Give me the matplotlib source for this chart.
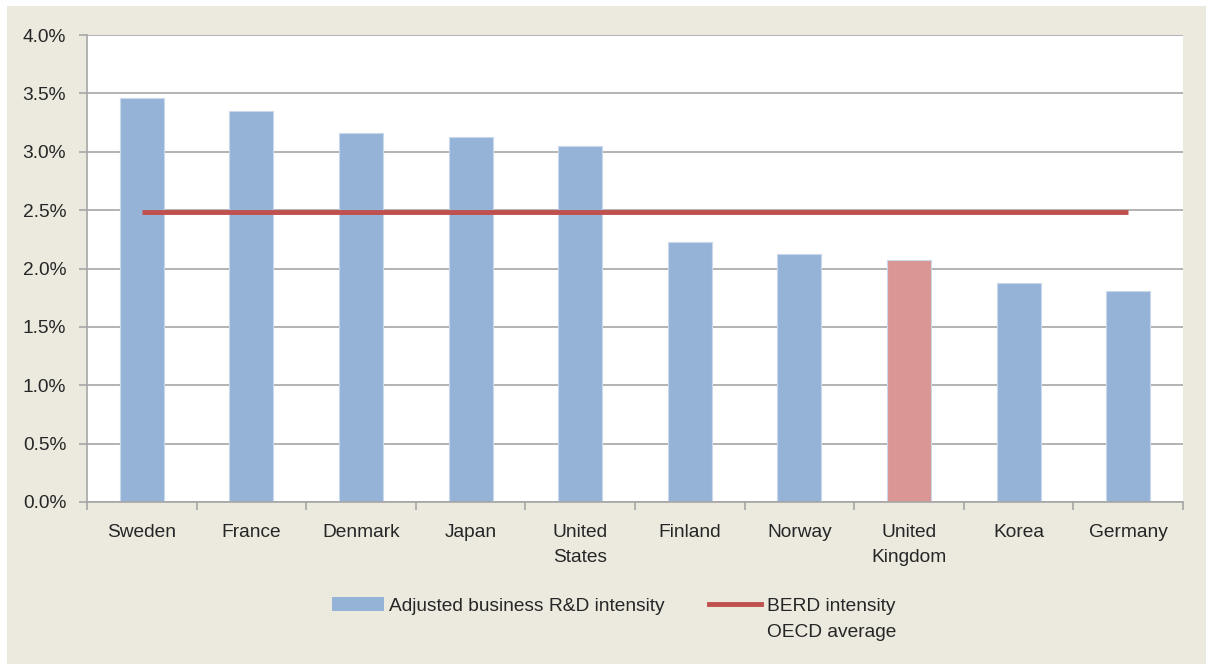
import numpy as np
import matplotlib.pyplot as plt
from matplotlib.patches import Rectangle
from matplotlib.lines import Line2D
from matplotlib.ticker import FuncFormatter, FixedLocator

countries = ["Sweden", "France", "Denmark", "Japan", "United\nStates",
             "Finland", "Norway", "United\nKingdom", "Korea", "Germany"]
rd_intensity = [3.46, 3.35, 3.16, 3.13, 3.05, 2.23, 2.12, 2.07, 1.88, 1.81]
oecd_avg = [2.48] * len(countries)
highlight = "United\nKingdom"

plt.rcParams['font.family'] = ['Liberation Sans', 'DejaVu Sans']

blue = "#95B3D7"
pink = "#D99694"
red = "#C0504D"
beige = "#ECE9DF"
grid_c = "#A6A6A6"
txt_c = "#262626"
fs = 13.8

fig = plt.figure(figsize=(12.06, 6.64), dpi=100, facecolor="white")
fig.patches.append(Rectangle((7 / 1206, 0), 1, 1 - 6 / 664, transform=fig.transFigure,
                             facecolor=beige, edgecolor="none", zorder=-10))

ax = fig.add_axes([87 / 1206, 162 / 664, 1096 / 1206, 467 / 664])
ax.set_facecolor("white")

x = np.arange(len(countries))
colors = [pink if c == highlight else blue for c in countries]
ax.bar(x, rd_intensity, width=0.4, color=colors, edgecolor="#C9D8EA", linewidth=0.8, zorder=2)
ax.plot(x, oecd_avg, color=red, linewidth=3.5, zorder=3, solid_capstyle="butt")

ax.set_xlim(-0.5, len(countries) - 0.5)
ax.set_ylim(0, 4.0)
ax.set_yticks(np.arange(0, 4.01, 0.5))
ax.yaxis.set_major_formatter(FuncFormatter(lambda v, p: f"{v:.1f}%"))
ax.yaxis.grid(True, color=grid_c, linewidth=1.2, zorder=0)
ax.set_axisbelow(True)

ax.set_xticks(x)
ax.set_xticklabels(countries, fontsize=fs, color=txt_c, linespacing=1.6)
ax.xaxis.set_minor_locator(FixedLocator(np.arange(-0.5, len(countries), 1.0)))
ax.tick_params(axis="x", which="major", length=0, pad=16)
ax.tick_params(axis="x", which="minor", length=6, color=grid_c, width=1.2)
ax.tick_params(axis="y", length=6, color=grid_c, width=1.2, labelsize=fs,
               labelcolor=txt_c, pad=9)

for s in ["top", "right"]:
    ax.spines[s].set_visible(False)
for s in ["left", "bottom"]:
    ax.spines[s].set_color(grid_c)
    ax.spines[s].set_linewidth(1.2)

blank = Rectangle((0, 0), 1, 1, visible=False)
handles = [Rectangle((0, 0), 1, 1, facecolor=blue, edgecolor="none"), blank,
           Line2D([], [], color=red, linewidth=3.5), blank]
labels = ["Adjusted business R&D intensity", "", "BERD intensity", "OECD average"]
leg = fig.legend(handles, labels, ncol=2, loc="center",
                 bbox_to_anchor=(614 / 1206, 1 - 619 / 664),
                 frameon=False, fontsize=fs, handlelength=2.7,
                 handletextpad=0.3, columnspacing=2.3, labelspacing=0.45)
for t in leg.get_texts():
    t.set_color(txt_c)

fig.savefig("out.png", dpi=100, facecolor=fig.get_facecolor())
